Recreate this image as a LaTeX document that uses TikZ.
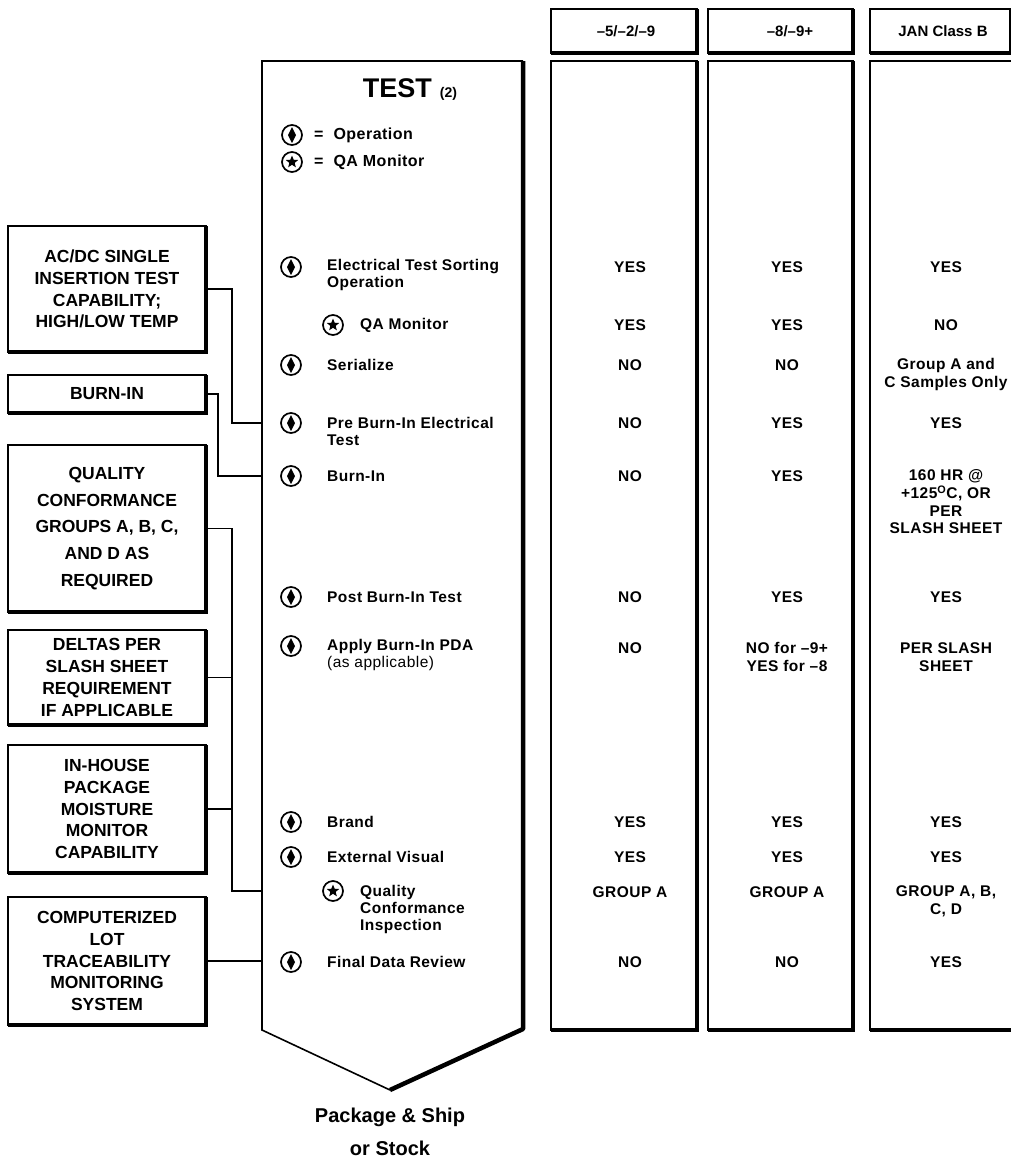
\documentclass[tikz,border=0pt]{standalone}
\usepackage{fontspec}
\setmainfont{Liberation Sans}
\newfontfamily\lsp{Liberation Sans}[LetterSpace=3]
\usetikzlibrary{shapes.geometric,backgrounds}
\begin{document}
\begin{tikzpicture}[x=1pt,y=-1pt,
  thinedge/.style={line width=1.6pt},
  thickedge/.style={line width=4pt},
  box/.style={draw, line width=1.6pt, outer sep=0pt, inner sep=0pt, align=center},
  lbox/.style={box, minimum width=198pt, font=\bfseries\fontsize{17.5}{21.7}\selectfont},
  hbox/.style={box, minimum height=44pt},
  htext/.style={inner sep=0pt, font=\bfseries\fontsize{15}{17}\selectfont},
  cbox/.style={box, minimum height=969pt},
  ctext/.style={inner sep=0pt, align=center, font=\lsp\bfseries\fontsize{15.5}{17.7}\selectfont},
  ftext/.style={anchor=west, inner sep=0pt, align=left, font=\lsp\bfseries\fontsize{15.5}{17}\selectfont},
  opc/.style={circle, draw, line width=1.7pt, fill=white, minimum size=20pt, inner sep=0pt,
    path picture={\fill[black] (path picture bounding box.center) ++(0pt,8pt) -- ++(4pt,-8pt) -- ++(-4pt,-8pt) -- ++(-4pt,8pt) -- cycle;}},
  qac/.style={circle, draw, line width=1.7pt, fill=white, minimum size=20pt, inner sep=0pt,
    path picture={\node[star, star points=5, star point ratio=2.3, fill=black, draw=none, inner sep=0pt, minimum size=13pt] at (path picture bounding box.center) {};}},
  spine/.style={line width=1.4pt},
  conn/.style={line width=1.6pt}
]
\fill[white] (0,0) rectangle (1011,1163);
\useasboundingbox (0,0) rectangle (1011,1163);

% headers and columns
\node[hbox, minimum width=146pt] (h1) at (624,31) {};
\node[hbox, minimum width=145pt] (h2) at (780.5,31) {};
\node[hbox, minimum width=141pt] (h3) at (940.5,31) {};
\node[htext] (h1t) at (626,31) {–5/–2/–9};
\node[htext] (h2t) at (790,31) {–8/–9+};
\node[htext] (h3t) at (943,31) {JAN Class B};
\node[cbox, minimum width=146pt] (c1) at (624,545.5) {};
\node[cbox, minimum width=145pt] (c2) at (780.5,545.5) {};
\node[cbox, minimum width=146pt] (c3) at (943,545.5) {};

% left boxes
\node[lbox, minimum height=126pt] (b1) at (107,289) {AC/DC SINGLE\\INSERTION TEST\\CAPABILITY;\\HIGH/LOW TEMP};
\node[lbox, minimum height=38pt] (b2) at (107,394) {BURN-IN};
\node[lbox, minimum height=167pt, font=\bfseries\fontsize{17.5}{26.7}\selectfont] (b3) at (107,528.5) {QUALITY\\CONFORMANCE\\GROUPS A, B, C,\\AND D AS\\REQUIRED};
\node[lbox, minimum height=95pt] (b4) at (107,677.5) {DELTAS PER\\SLASH SHEET\\REQUIREMENT\\IF APPLICABLE};
\node[lbox, minimum height=128pt] (b5) at (107,809) {IN-HOUSE\\PACKAGE\\MOISTURE\\MONITOR\\CAPABILITY};
\node[lbox, minimum height=128pt] (b6) at (107,961) {COMPUTERIZED\\LOT\\TRACEABILITY\\MONITORING\\SYSTEM};

\foreach \n in {b1,b2,b3,b4,b5,b6,h1,h2,h3,c1,c2,c3}
  \draw[thickedge] (\n.north east) -- (\n.south east) -- (\n.south west);

% TEST shape
\coordinate (T1) at (262,61);
\coordinate (T2) at (523,61);
\coordinate (T3) at (523,1029);
\coordinate (T4) at (390,1090);
\coordinate (T5) at (262,1030);
\coordinate (TL) at (262,0);
\coordinate (bus) at (232,0);
\coordinate (bus2) at (218,0);
\draw[thinedge] (T2) -- (T1) -- (T5) -- (T4);
\draw[line width=4.5pt, line join=round] (T2) -- (T3) -- (T4);

\node[inner sep=0pt, font=\bfseries\fontsize{27}{30}\selectfont] (title) at (410,90) {TEST\hspace{8pt}{\fontsize{14}{14}\selectfont(2)}};

% legend
\node[opc] (lg1) at (292,135) {};
\node[qac] (lg2) at (292,162) {};
\node[ftext, font=\lsp\bfseries\fontsize{16}{17}\selectfont] (lt1) at (314,135) {=\hspace{10pt}Operation};
\node[ftext, font=\lsp\bfseries\fontsize{16}{17}\selectfont] (lt2) at (314,162) {=\hspace{10pt}QA Monitor};

% flow
\node[opc] (o1) at (291,267) {};
\node[qac] (q1) at (333,325) {};
\node[opc] (o2) at (291,365) {};
\node[opc] (o3) at (291,423) {};
\node[opc] (o4) at (291,476) {};
\node[opc] (o5) at (291,597) {};
\node[opc] (o6) at (291,646) {};
\node[opc] (o7) at (291,822) {};
\node[opc] (o8) at (291,857) {};
\node[qac] (q2) at (333,891) {};
\node[opc] (o9) at (291,962) {};

\begin{scope}[on background layer]
  \draw[spine] (o1.center) -- (o9.center);
  \draw[spine] (q1.center) -- (q1 -| o1.center);
  \draw[spine] (q2.center) -- (q2 -| o1.center);
\end{scope}

\node[ftext] (f1) at (327,275) {Electrical Test Sorting\\Operation};
\node[ftext] (fq1) at (360,325) {QA Monitor};
\node[ftext] (f2) at (327,365) {Serialize};
\node[ftext] (f3) at (327,431.5) {Pre Burn-In Electrical\\Test};
\node[ftext] (f4) at (327,476) {Burn-In};
\node[ftext] (f5) at (327,597) {Post Burn-In Test};
\node[ftext] (f6) at (327,654.5) {Apply Burn-In PDA\\{\mdseries(as applicable)}};
\node[ftext] (f7) at (327,822) {Brand};
\node[ftext] (f8) at (327,857) {External Visual};
\node[ftext] (fq2) at (360,909) {Quality\\Conformance\\Inspection};
\node[ftext] (f9) at (327,962) {Final Data Review};

% connectors
\draw[conn] (b1.east) -| (bus |- o3) -- (o3 -| TL);
\draw[conn] (b2.east) -| (bus2 |- o4) -- (o4 -| TL);
\draw[conn] (b3.east) -| (bus |- q2) -- (q2 -| TL);
\draw[conn] (b4.east) -- (b4.east -| bus);
\draw[conn] (b5.east) -- (b5.east -| bus);
\draw[conn] (b6.east) -- (b6.east -| TL);

% column texts
\node[ctext] (r1a) at (630,267) {YES};
\node[ctext] (r1b) at (787,267) {YES};
\node[ctext] (r1c) at (946,267) {YES};
\node[ctext] (r2a) at (630,325) {YES};
\node[ctext] (r2b) at (787,325) {YES};
\node[ctext] (r2c) at (946,325) {NO};
\node[ctext] (r3a) at (630,365) {NO};
\node[ctext] (r3b) at (787,365) {NO};
\node[ctext] (r3c) at (946,374.5) {Group A and\\C Samples Only};
\node[ctext] (r4a) at (630,423) {NO};
\node[ctext] (r4b) at (787,423) {YES};
\node[ctext] (r4c) at (946,423) {YES};
\node[ctext] (r5a) at (630,476) {NO};
\node[ctext] (r5b) at (787,476) {YES};
\node[ctext] (r5c) at (946,502) {160 HR @\\+125\textsuperscript{O}C, OR\\PER\\SLASH SHEET};
\node[ctext] (r6a) at (630,597) {NO};
\node[ctext] (r6b) at (787,597) {YES};
\node[ctext] (r6c) at (946,597) {YES};
\node[ctext] (r7a) at (630,648) {NO};
\node[ctext] (r7b) at (787,657) {NO for –9+\\YES for –8};
\node[ctext] (r7c) at (946,657) {PER SLASH\\SHEET};
\node[ctext] (r8a) at (630,822) {YES};
\node[ctext] (r8b) at (787,822) {YES};
\node[ctext] (r8c) at (946,822) {YES};
\node[ctext] (r9a) at (630,857) {YES};
\node[ctext] (r9b) at (787,857) {YES};
\node[ctext] (r9c) at (946,857) {YES};
\node[ctext] (r10a) at (630,892) {GROUP A};
\node[ctext] (r10b) at (787,892) {GROUP A};
\node[ctext] (r10c) at (946,901) {GROUP A, B,\\C, D};
\node[ctext] (r11a) at (630,962) {NO};
\node[ctext] (r11b) at (787,962) {NO};
\node[ctext] (r11c) at (946,962) {YES};

% bottom label
\node[inner sep=0pt, align=center, font=\bfseries\fontsize{20}{33}\selectfont] (ship) at (390,1132) {Package \& Ship\\or Stock};
\end{tikzpicture}
\end{document}
